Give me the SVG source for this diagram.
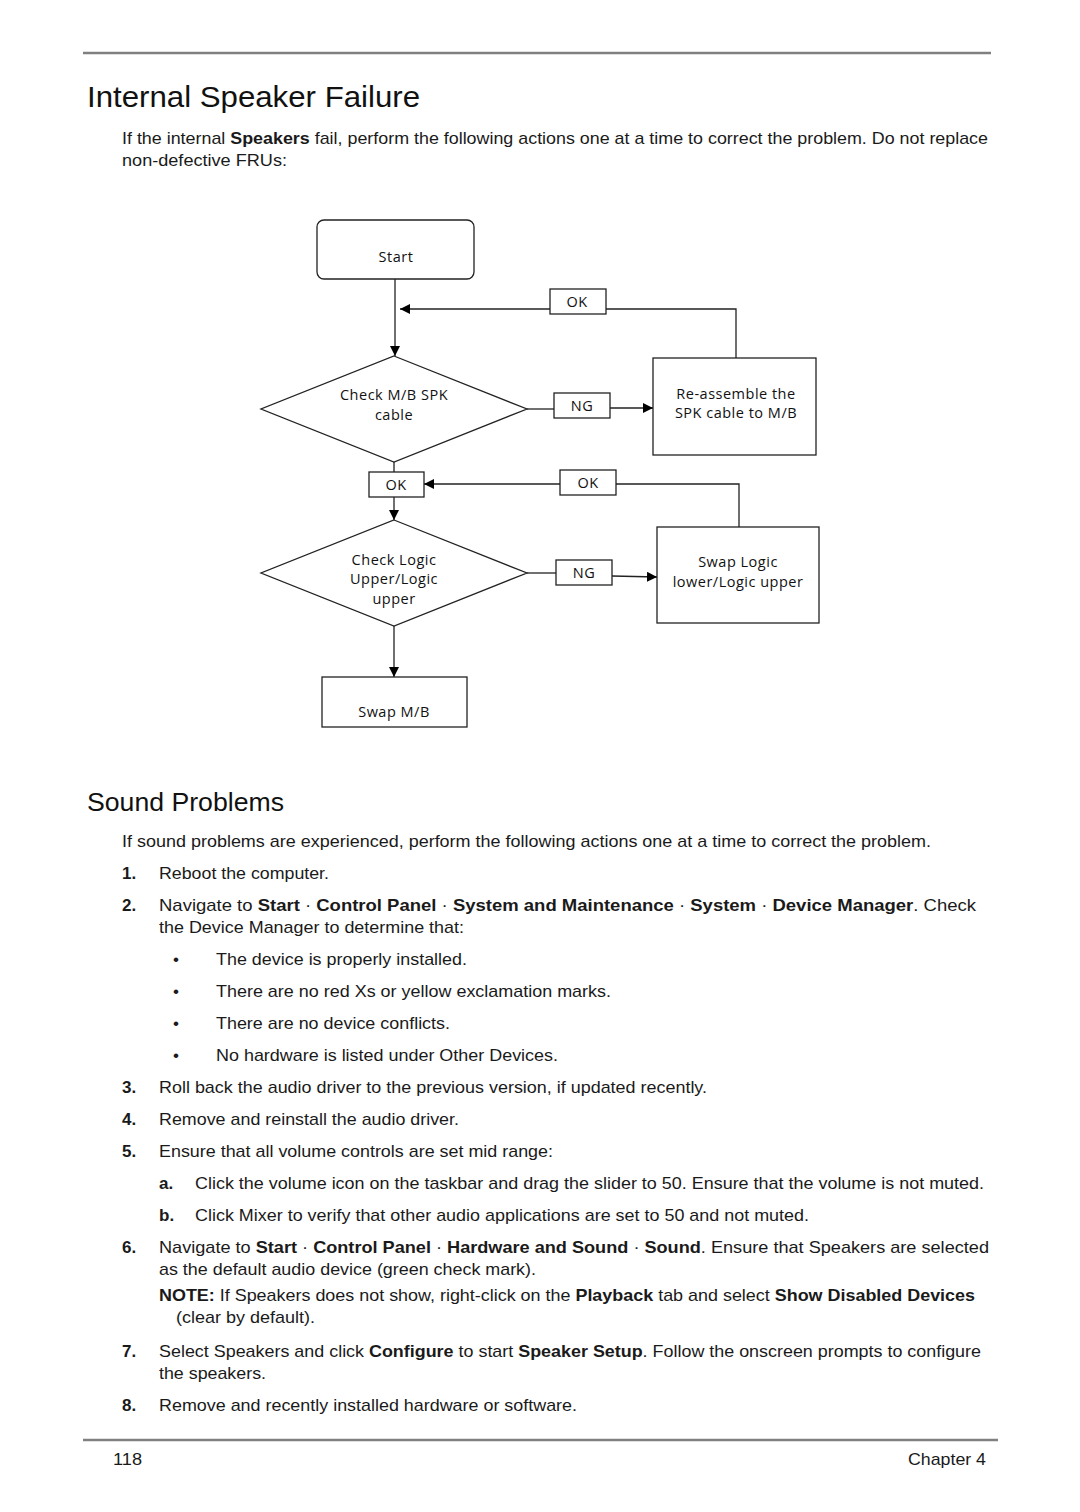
<svg xmlns="http://www.w3.org/2000/svg" width="1080" height="1512" viewBox="0 0 1080 1512">
<defs>
<marker id="arr" viewBox="0 0 10 10" refX="10" refY="5" markerWidth="10" markerHeight="10" markerUnits="userSpaceOnUse" orient="auto">
<path d="M0,0 L10,5 L0,10 Z" fill="#000"/>
</marker>
<style>
.rule{stroke:#808080;stroke-width:2.5}
.body{font-family:"Liberation Sans",Arial,sans-serif;font-size:17px;fill:#1a1a1a}
.b{font-weight:bold}
.h1{font-family:"Liberation Sans",Arial,sans-serif;font-size:30px;fill:#111}
.h2{font-family:"Liberation Sans",Arial,sans-serif;font-size:26px;fill:#111}
.node{fill:#fff;stroke:#222;stroke-width:1.3}
.ft{font-family:"Open Sans","Noto Sans",sans-serif;font-size:14.5px;letter-spacing:0.5px;fill:#111;text-anchor:middle}
.conn{fill:none;stroke:#222;stroke-width:1.3}
</style>
</defs>
<rect width="1080" height="1512" fill="#fff"/>
<line class="rule" x1="83" y1="53" x2="991" y2="53"/>
<text class="h1" x="87" y="107" textLength="333" lengthAdjust="spacingAndGlyphs">Internal Speaker Failure</text>
<text class="body" x="122" y="144" textLength="866" lengthAdjust="spacingAndGlyphs">If the internal <tspan class="b">Speakers</tspan> fail, perform the following actions one at a time to correct the problem. Do not replace</text>
<text class="body" x="122" y="166" textLength="165" lengthAdjust="spacingAndGlyphs">non-defective FRUs:</text>

<g id="connectors">
<line class="conn" x1="395" y1="279" x2="395" y2="356" marker-end="url(#arr)"/>
<polyline class="conn" points="736,358 736,309 606,309"/>
<line class="conn" x1="550" y1="309" x2="400" y2="309" marker-end="url(#arr)"/>
<line class="conn" x1="527" y1="409" x2="554" y2="409"/>
<polyline class="conn" points="610,408 653,408" marker-end="url(#arr)"/>
<line class="conn" x1="394" y1="462" x2="394" y2="472"/>
<polyline class="conn" points="739,527 739,484 616,484"/>
<line class="conn" x1="560" y1="484" x2="424" y2="484" marker-end="url(#arr)"/>
<line class="conn" x1="394" y1="497" x2="394" y2="520" marker-end="url(#arr)"/>
<line class="conn" x1="527" y1="573" x2="556" y2="573"/>
<polyline class="conn" points="612,576 657,577" marker-end="url(#arr)"/>
<line class="conn" x1="394" y1="626" x2="394" y2="677" marker-end="url(#arr)"/>
</g>

<g id="start">
<rect class="node" x="317" y="220" width="157" height="59" rx="7"/>
<text class="ft" x="396" y="262">Start</text>
</g>
<g id="ok1">
<rect class="node" x="550" y="289" width="56" height="25"/>
<text class="ft" x="577" y="307">OK</text>
</g>
<g id="check-spk">
<polygon class="node" points="394,356 527,409 394,462 261,409"/>
<text class="ft" x="394" y="400">Check M/B SPK</text>
<text class="ft" x="394" y="420">cable</text>
</g>
<g id="ng1">
<rect class="node" x="554" y="393" width="56" height="25"/>
<text class="ft" x="582" y="411">NG</text>
</g>
<g id="reassemble">
<rect class="node" x="653" y="358" width="163" height="97"/>
<text class="ft" x="736" y="399">Re-assemble the</text>
<text class="ft" x="736" y="418">SPK cable to M/B</text>
</g>
<g id="ok2">
<rect class="node" x="369" y="472" width="55" height="25"/>
<text class="ft" x="396" y="490">OK</text>
</g>
<g id="ok3">
<rect class="node" x="560" y="470" width="56" height="25"/>
<text class="ft" x="588" y="488">OK</text>
</g>
<g id="check-logic">
<polygon class="node" points="394,520 527,573 394,626 261,573"/>
<text class="ft" x="394" y="565">Check Logic</text>
<text class="ft" x="394" y="584">Upper/Logic</text>
<text class="ft" x="394" y="604">upper</text>
</g>
<g id="ng2">
<rect class="node" x="556" y="560" width="56" height="25"/>
<text class="ft" x="584" y="578">NG</text>
</g>
<g id="swap-logic">
<rect class="node" x="657" y="527" width="162" height="96"/>
<text class="ft" x="738" y="567">Swap Logic</text>
<text class="ft" x="738" y="587">lower/Logic upper</text>
</g>
<g id="swap-mb">
<rect class="node" x="322" y="677" width="145" height="50"/>
<text class="ft" x="394" y="717">Swap M/B</text>
</g>

<text class="h2" x="87" y="811" textLength="197" lengthAdjust="spacingAndGlyphs">Sound Problems</text>
<text class="body" x="122" y="847" textLength="809" lengthAdjust="spacingAndGlyphs">If sound problems are experienced, perform the following actions one at a time to correct the problem.</text>

<text class="body b" x="122" y="879">1.</text>
<text class="body" x="159" y="879" textLength="170" lengthAdjust="spacingAndGlyphs">Reboot the computer.</text>

<text class="body b" x="122" y="911">2.</text>
<text class="body" x="159" y="911" textLength="817" lengthAdjust="spacingAndGlyphs">Navigate to <tspan class="b">Start</tspan> ·  <tspan class="b">Control Panel</tspan> ·  <tspan class="b">System and Maintenance</tspan> ·  <tspan class="b">System</tspan> ·  <tspan class="b">Device Manager</tspan>. Check</text>
<text class="body" x="159" y="933" textLength="305" lengthAdjust="spacingAndGlyphs">the Device Manager to determine that:</text>

<text class="body" x="173" y="965">•</text>
<text class="body" x="216" y="965" textLength="251" lengthAdjust="spacingAndGlyphs">The device is properly installed.</text>
<text class="body" x="173" y="997">•</text>
<text class="body" x="216" y="997" textLength="395" lengthAdjust="spacingAndGlyphs">There are no red Xs or yellow exclamation marks.</text>
<text class="body" x="173" y="1029">•</text>
<text class="body" x="216" y="1029" textLength="234" lengthAdjust="spacingAndGlyphs">There are no device conflicts.</text>
<text class="body" x="173" y="1061">•</text>
<text class="body" x="216" y="1061" textLength="342" lengthAdjust="spacingAndGlyphs">No hardware is listed under Other Devices.</text>

<text class="body b" x="122" y="1093">3.</text>
<text class="body" x="159" y="1093" textLength="548" lengthAdjust="spacingAndGlyphs">Roll back the audio driver to the previous version, if updated recently.</text>
<text class="body b" x="122" y="1125">4.</text>
<text class="body" x="159" y="1125" textLength="300" lengthAdjust="spacingAndGlyphs">Remove and reinstall the audio driver.</text>
<text class="body b" x="122" y="1157">5.</text>
<text class="body" x="159" y="1157" textLength="394" lengthAdjust="spacingAndGlyphs">Ensure that all volume controls are set mid range:</text>

<text class="body b" x="159" y="1189">a.</text>
<text class="body" x="195" y="1189" textLength="789" lengthAdjust="spacingAndGlyphs">Click the volume icon on the taskbar and drag the slider to 50. Ensure that the volume is not muted.</text>
<text class="body b" x="159" y="1221">b.</text>
<text class="body" x="195" y="1221" textLength="614" lengthAdjust="spacingAndGlyphs">Click Mixer to verify that other audio applications are set to 50 and not muted.</text>

<text class="body b" x="122" y="1253">6.</text>
<text class="body" x="159" y="1253" textLength="830" lengthAdjust="spacingAndGlyphs">Navigate to <tspan class="b">Start</tspan> ·  <tspan class="b">Control Panel</tspan> ·  <tspan class="b">Hardware and Sound</tspan> ·  <tspan class="b">Sound</tspan>. Ensure that Speakers are selected</text>
<text class="body" x="159" y="1275" textLength="377" lengthAdjust="spacingAndGlyphs">as the default audio device (green check mark).</text>
<text class="body" x="159" y="1301" textLength="816" lengthAdjust="spacingAndGlyphs"><tspan class="b">NOTE:</tspan> If Speakers does not show, right-click on the <tspan class="b">Playback</tspan> tab and select <tspan class="b">Show Disabled Devices</tspan></text>
<text class="body" x="176" y="1323" textLength="139" lengthAdjust="spacingAndGlyphs">(clear by default).</text>

<text class="body b" x="122" y="1357">7.</text>
<text class="body" x="159" y="1357" textLength="822" lengthAdjust="spacingAndGlyphs">Select Speakers and click <tspan class="b">Configure</tspan> to start <tspan class="b">Speaker Setup</tspan>. Follow the onscreen prompts to configure</text>
<text class="body" x="159" y="1379" textLength="107" lengthAdjust="spacingAndGlyphs">the speakers.</text>
<text class="body b" x="122" y="1411">8.</text>
<text class="body" x="159" y="1411" textLength="418" lengthAdjust="spacingAndGlyphs">Remove and recently installed hardware or software.</text>

<line class="rule" x1="83" y1="1440" x2="998" y2="1440"/>
<text class="body" x="113" y="1465" textLength="29" lengthAdjust="spacingAndGlyphs">118</text>
<text class="body" x="908" y="1465" textLength="78" lengthAdjust="spacingAndGlyphs">Chapter 4</text>
</svg>
